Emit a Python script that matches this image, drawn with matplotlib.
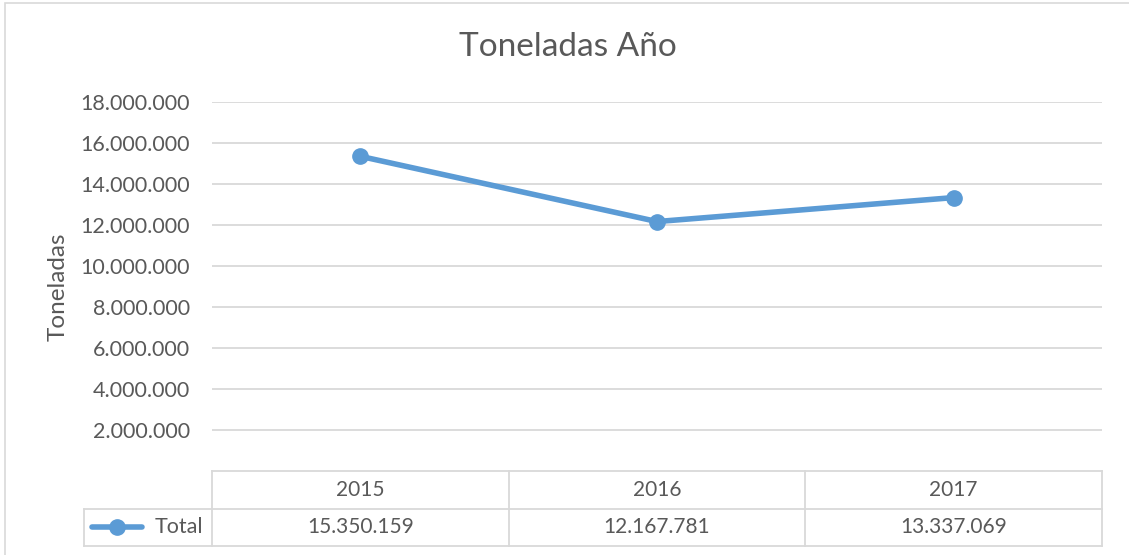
import matplotlib.pyplot as plt
from matplotlib.lines import Line2D
from matplotlib.patches import Rectangle

# data
years = ["2015", "2016", "2017"]
total = [15350159, 12167781, 13337069]
yticks = [2000000, 4000000, 6000000, 8000000, 10000000, 12000000, 14000000, 16000000, 18000000]

def fmt(v):
    return f"{v:,.0f}".replace(",", ".")

plt.rcParams['font.family'] = ['Lato', 'DejaVu Sans']

W, H = 1129, 555
fig = plt.figure(figsize=(W / 100, H / 100), dpi=100)

# chart border
fig.patches.append(Rectangle((5 / W, -0.1), 1.2, (H - 3) / H + 0.1, transform=fig.transFigure,
                             fill=False, edgecolor='#D9D9D9', linewidth=1.2))

left, right, top, bottom = 212, 1102, 102, 471
ax = fig.add_axes([left / W, 1 - bottom / H, (right - left) / W, (bottom - top) / H])

x = list(range(len(years)))
line_col = '#5B9BD5'
grid_col = '#D9D9D9'
txt_col = '#595959'

ax.plot(x, total, color=line_col, linewidth=4, marker='o', markersize=11, zorder=3,
        solid_capstyle='round')
ax.set_xlim(-0.5, 2.5)
ax.set_ylim(0, 18000000)
ax.set_yticks(yticks)
ax.set_yticklabels([fmt(v) for v in yticks], fontsize=15.5, color=txt_col)
ax.tick_params(axis='y', length=0, pad=16)
ax.set_xticks([])
ax.grid(axis='y', color=grid_col, linewidth=1.3)
for s in ax.spines.values():
    s.set_visible(False)
ax.set_axisbelow(True)

ax.set_ylabel("Toneladas", fontsize=17.5, color=txt_col, labelpad=8)
fig.text(568 / W, 1 - 47 / H, "Toneladas Año", ha='center', va='center', fontsize=24, color=txt_col)

# data table below the axes
ph = bottom - top
r1 = -37.5 / ph
r2 = -75 / ph
tr = ax.get_xaxis_transform()
unit = (right - left) / 3
leg_left = -0.5 - (left - 84) / unit

def hline(x0, x1, y):
    ax.add_line(Line2D([x0, x1], [y, y], transform=tr, color=grid_col, linewidth=1.3, clip_on=False))

def vline(xx, y0, y1):
    ax.add_line(Line2D([xx, xx], [y0, y1], transform=tr, color=grid_col, linewidth=1.3, clip_on=False))

hline(-0.5, 2.5, 0)
hline(leg_left, 2.5, r1)
hline(leg_left, 2.5, r2)
for e in [-0.5, 0.5, 1.5, 2.5]:
    vline(e, 0, r2)
vline(leg_left, r1, r2)

for i, (yr, v) in enumerate(zip(years, total)):
    ax.text(i, r1 / 2, yr, transform=tr, ha='center', va='center', fontsize=15, color=txt_col)
    ax.text(i, (r1 + r2) / 2, fmt(v), transform=tr, ha='center', va='center', fontsize=15, color=txt_col)

# legend key in the table
ky = (r1 + r2) / 2
kx0 = leg_left + 8 / unit
kx1 = leg_left + 58 / unit
ax.add_line(Line2D([kx0, kx1], [ky, ky], transform=tr, color=line_col, linewidth=4,
                   solid_capstyle='round', clip_on=False))
ax.add_line(Line2D([(kx0 + kx1) / 2], [ky], transform=tr, color=line_col, marker='o',
                   markersize=11, clip_on=False))
ax.text(leg_left + 71 / unit, ky, "Total", transform=tr, ha='left', va='center', fontsize=15.5, color=txt_col)

fig.savefig("out.png", dpi=100)
